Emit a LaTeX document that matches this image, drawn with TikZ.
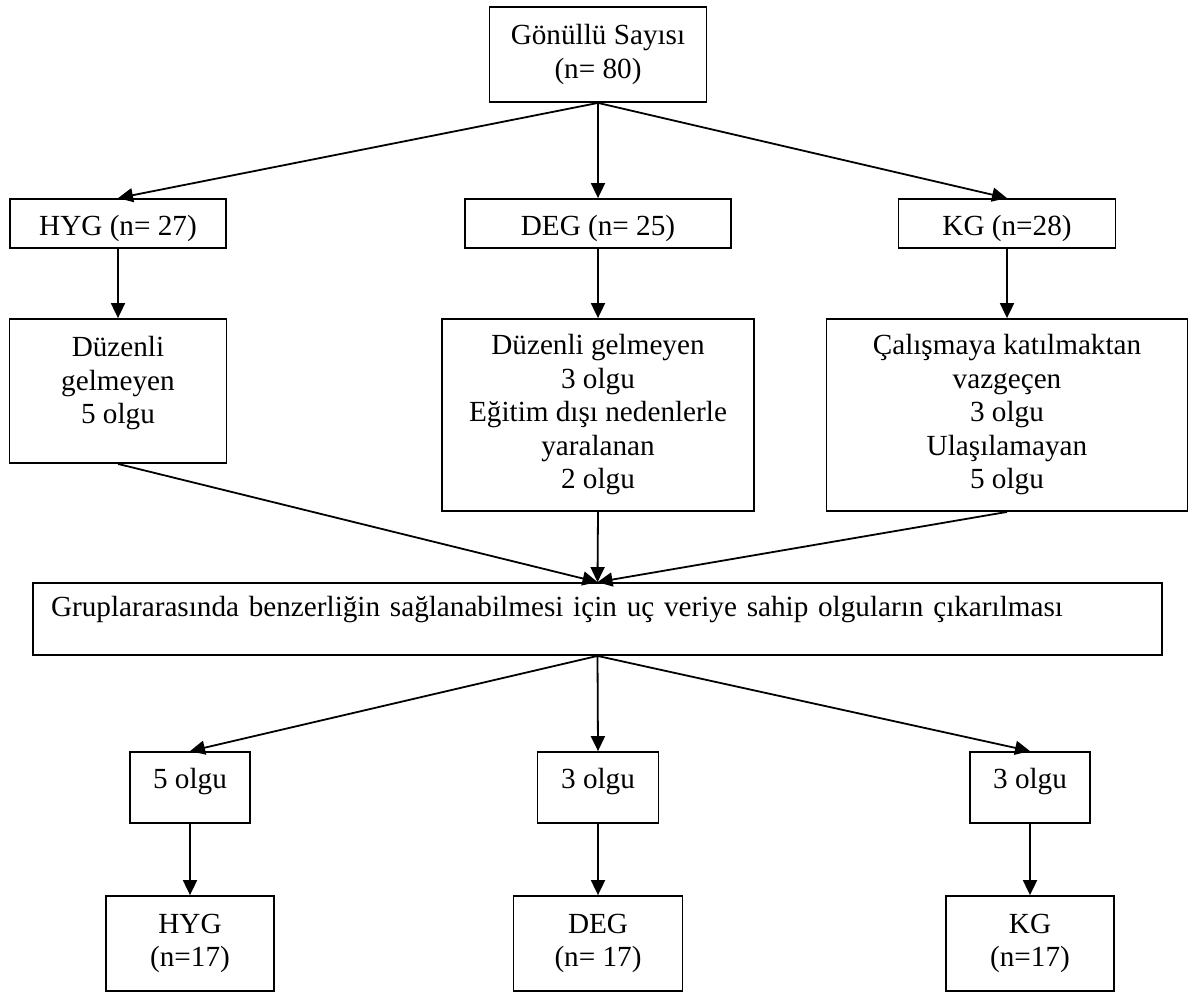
\documentclass[tikz,border=0pt]{standalone}
\usepackage{fontspec}
\setmainfont{Liberation Serif}
\usetikzlibrary{arrows.meta}
\begin{document}
\begin{tikzpicture}[x=0.5pt,y=-0.5pt,
  box/.style={draw,line width=0.9pt,align=center,inner sep=0pt,
    font=\fontsize{14.6pt}{16.75pt}\selectfont},
  ok/.style={-{Triangle[length=7.5pt,width=7pt]},line width=0.9pt}]
\useasboundingbox (0,0) rectangle (1193,992);
% gonullu
\node[box,minimum width=108.5pt,minimum height=47.5pt] (gonullu) at (598,54.5) {Gönüllü Sayısı\\(n= 80)};
% gruplar
\node[box,minimum width=108pt,minimum height=24.5pt,text height=15pt,text depth=3pt] (hyg) at (118,223.5) {HYG (n= 27)};
\node[box,minimum width=133pt,minimum height=24.5pt,text height=15pt,text depth=3pt] (deg) at (598,223.5) {DEG (n= 25)};
\node[box,minimum width=108.5pt,minimum height=24.5pt,text height=15pt,text depth=3pt] (kg) at (1007,223.5) {KG (n=28)};
% ayrilanlar
\node[box,minimum width=108.5pt,minimum height=72pt,text depth=10.7pt] (hygcik) at (118,391) {Düzenli\\gelmeyen\\5 olgu};
\node[box,minimum width=156pt,minimum height=96pt] (degcik) at (598,415) {Düzenli gelmeyen\\3 olgu\\Eğitim dışı nedenlerle\\yaralanan\\2 olgu};
\node[box,minimum width=180.5pt,minimum height=96pt] (kgcik) at (1007,415) {Çalışmaya katılmaktan\\vazgeçen\\3 olgu\\Ulaşılamayan\\5 olgu};
% uc veri
\node[box,minimum width=564.5pt,minimum height=36pt,text width=546.5pt,align=left,text height=10pt,text depth=13pt] (secim) at (597.5,619) {Gruplararasında benzerliğin sağlanabilmesi için uç veriye sahip olguların çıkarılması};
\node[box,minimum width=60pt,minimum height=35.5pt,text height=10pt,text depth=9.5pt] (hyguc) at (190,787.5) {5 olgu};
\node[box,minimum width=60.5pt,minimum height=35.5pt,text height=10pt,text depth=9.5pt] (deguc) at (598,787.5) {3 olgu};
\node[box,minimum width=60pt,minimum height=35.5pt,text height=10pt,text depth=9.5pt] (kguc) at (1030,787.5) {3 olgu};
% son
\node[box,minimum width=84pt,minimum height=47.5pt] (hygson) at (190,943.5) {HYG\\(n=17)};
\node[box,minimum width=84.5pt,minimum height=47.5pt] (degson) at (598,943.5) {DEG\\(n= 17)};
\node[box,minimum width=84pt,minimum height=47.5pt] (kgson) at (1030,943.5) {KG\\(n=17)};

\foreach \g in {hyg,deg,kg} {
  \draw[ok] (gonullu.south) -- (\g.north);
  \draw[ok] (\g.south) -- (\g cik.north);
  \draw[ok] (\g cik.south) -- (secim.north);
  \draw[ok] (secim.south) -- (\g uc.north);
  \draw[ok] (\g uc.south) -- (\g son.north);
}
\end{tikzpicture}
\end{document}
